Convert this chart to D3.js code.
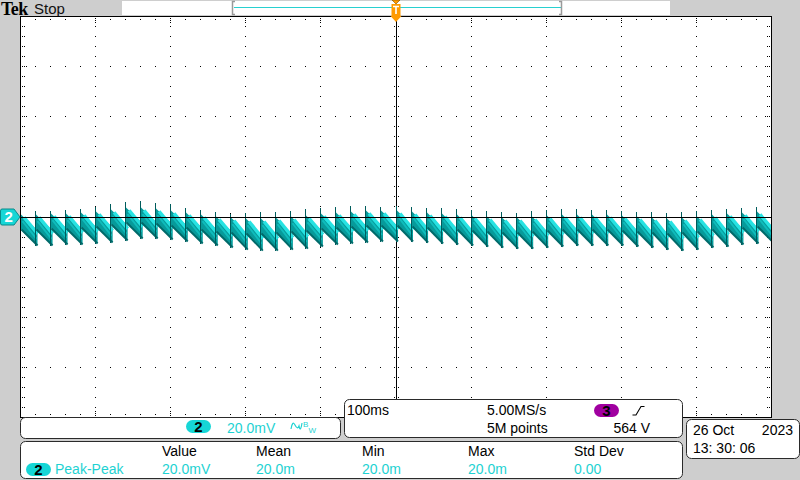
<!DOCTYPE html>
<html><head><meta charset="utf-8">
<script src="https://cdn.jsdelivr.net/npm/d3@7"></script>
<style>
html,body{margin:0;padding:0;background:#cecece;overflow:hidden}
svg{display:block;font-family:"Liberation Sans",Arial,sans-serif}
</style></head><body>
<svg id="c" width="800" height="480"></svg>
<script>
// ---- data (time in ms, voltage in mV) ----
const toothTimes = [-500,-480,-460,-440,-420,-400,-380,-360,-340,-320,-300,-280,-260,-240,-220,-200,-180,-160,-140,-120,-100,-80,-60,-40,-20,0,20,40,60,80,100,120,140,160,180,200,220,240,260,280,300,320,340,360,380,400,420,440,460,480,500];
const spikeTop = [1.8,2.2,2.4,2.6,3.2,3.8,5.0,5.8,6.2,5.6,5.0,3.6,2.6,1.8,1.2,1.4,1.8,2.0,2.2,3.0,3.6,3.8,4.2,4.4,4.0,4.2,3.8,3.6,3.4,3.0,2.6,2.2,1.8,1.6,2.2,2.6,3.2,3.0,2.8,2.6,2.4,1.8,1.8,1.4,1.8,2.2,2.6,3.2,3.4,3.8,3.8];
const bandStart = [1.0,1.0,1.4,1.4,1.8,2.2,3.0,3.8,3.8,3.4,2.6,1.8,1.0,0.2,-0.2,-0.6,-0.6,-0.2,0.2,0.6,1.4,1.8,2.2,2.6,2.6,2.6,2.2,1.8,1.4,1.0,0.6,0.2,-0.2,-0.2,0.2,0.6,1.0,1.0,1.0,1.0,0.6,0.2,-0.2,-0.6,-0.2,0.2,1.0,1.4,1.8,2.2,2.2];
const bandEnd = [-11.4,-11.4,-11.0,-11.0,-10.6,-10.2,-9.4,-8.6,-8.6,-9.0,-9.8,-10.6,-11.4,-12.2,-13.0,-13.4,-13.4,-13.0,-12.6,-11.8,-11.0,-10.6,-10.2,-9.8,-9.8,-9.8,-10.2,-10.6,-11.0,-11.4,-11.8,-12.2,-12.6,-12.6,-12.2,-11.8,-11.4,-11.4,-11.4,-11.4,-11.8,-12.2,-13.0,-13.4,-13.0,-12.2,-11.8,-11.0,-10.6,-10.2,-10.2];
const toothPeriod = 20;
const timeDivs = [-500,-400,-300,-200,-100,0,100,200,300,400,500];
const voltDivs = [-80,-60,-40,-20,0,20,40,60,80];
const measHeaders = ["Value","Mean","Min","Max","Std Dev"];
const measValues = ["20.0mV","20.0m","20.0m","20.0m","0.00"];
const measName = "Peak-Peak";
const channelLabel = "2";
const channelScale = "20.0mV";
const timeScale = "100ms";
const sampleRate = "5.00MS/s";
const recordLength = "5M points";
const trigSource = "3";
const trigLevel = "564 V";
const dateText = "26 Oct";
const yearText = "2023";
const timeText = "13: 30: 06";

// ---- layout ----
const svg = d3.select("#c");
const x = d3.scaleLinear().domain([-500,500]).range([20.5,771.5]);
const y = d3.scaleLinear().domain([-80,80]).range([417.5,16.5]);
const px = v => Math.floor(x(v)) + 0.5;
const CYAN = "#16d6d6", CYANTXT = "#1ed2d2", DARKTEAL = "#005c5c";

// top status bar
svg.append("text").attr("x",1).attr("y",15).attr("font-family","Liberation Serif")
  .attr("font-weight","bold").attr("font-size",18).attr("letter-spacing",-0.6).text("Tek");
svg.append("text").attr("x",34).attr("y",14).attr("font-size",15).attr("fill","#111").text("Stop");
svg.append("rect").attr("x",122).attr("y",1).attr("width",548).attr("height",14).attr("fill","#fff");
svg.append("line").attr("x1",234).attr("x2",561).attr("y1",7.5).attr("y2",7.5)
  .attr("stroke","#28d0d0").attr("stroke-width",1.2);
svg.append("path").attr("d","M235,1.5 H232.5 V14.5 H235 M559,1.5 H561.5 V14.5 H559")
  .attr("fill","none").attr("stroke","#9a9a9a").attr("stroke-width",1.5);

// plot area
svg.append("rect").attr("x",20).attr("y",16).attr("width",752).attr("height",402).attr("fill","#fff");
const grat = svg.append("g").attr("shape-rendering","crispEdges");
const dot = (g,cx,cy)=>g.append("rect").attr("x",Math.round(cx)).attr("y",Math.round(cy)).attr("width",1).attr("height",1).attr("fill","#000");
const xMinor = d3.range(-500,500.01,20);
const yMinor = d3.range(-80,80.01,4);
const xL = Math.floor(x(-500)), xR = Math.floor(x(500)), yT = Math.floor(y(80)), yB = Math.floor(y(-80));
const xC = Math.floor(x(0)), yC = Math.floor(y(0));
timeDivs.slice(1,-1).forEach(t=>{ if(t===0) return;
  yMinor.forEach(v=>dot(grat,Math.floor(x(t)),Math.floor(y(v)))); });
voltDivs.slice(1,-1).forEach(v=>{ if(v===0) return;
  xMinor.forEach(t=>dot(grat,Math.floor(x(t)),Math.floor(y(v)))); });
yMinor.forEach(v=>{ const yy=Math.floor(y(v)); const major = voltDivs.includes(+v.toFixed(3));
  [2,4].concat(major?[6]:[]).forEach(d=>{dot(grat,xL+d,yy); dot(grat,xR-d,yy);}); });
xMinor.forEach(t=>{ const xx=Math.floor(x(t)); const major = timeDivs.includes(+t.toFixed(3));
  (major?[2,4,6]:[3]).forEach(d=>{dot(grat,xx,yT+d); dot(grat,xx,yB-d);}); });
xMinor.forEach(t=>{ const xx=Math.floor(x(t)); [-4,-2,2,4].forEach(d=>dot(grat,xx,yC+d)); });
yMinor.forEach(v=>{ const yy=Math.floor(y(v)); [-2,2].forEach(d=>dot(grat,xC+d,yy)); });
grat.append("line").attr("x1",xC+0.5).attr("x2",xC+0.5).attr("y1",yT).attr("y2",yB).attr("stroke","#000");

// waveform
const defs = svg.append("defs");
defs.append("clipPath").attr("id","plotclip").append("rect")
  .attr("x",21).attr("y",17).attr("width",750).attr("height",400);
const wave = svg.append("g").attr("clip-path","url(#plotclip)");
const th = 15, ext = 2;
toothTimes.forEach((t,i)=>{
  const xs = px(t), xe = x(t+toothPeriod) + ext;
  const ys = y(bandStart[i]), ye = y(bandEnd[i]);
  const g = wave.append("g");
  g.append("path").attr("d",`M${xs+0.5},${ys} L${xe},${ye-th} L${xe},${ye} L${xs+0.5},${ys+th} Z`)
    .attr("fill","#079a9a");
  g.append("line").attr("x1",xs+3.5).attr("y1",ys+th*0.2).attr("x2",xe).attr("y2",ye-th*0.8)
    .attr("stroke","#27e2e2").attr("stroke-width",3.5);
  g.append("line").attr("x1",xs+2).attr("y1",ys+th*0.45).attr("x2",xe-1).attr("y2",ye-th*0.45)
    .attr("stroke","#0fbcbc").attr("stroke-width",2);
  g.append("line").attr("x1",xs+1).attr("y1",ys+th).attr("x2",xe).attr("y2",ye)
    .attr("stroke","#006a6a").attr("stroke-width",2);
  const prevEnd = i>0 ? bandEnd[i-1] : bandEnd[i];
  g.append("line").attr("x1",xs).attr("x2",xs).attr("y1",y(spikeTop[i])).attr("y2",y(prevEnd))
    .attr("stroke",DARKTEAL).attr("stroke-width",1).attr("shape-rendering","crispEdges");
});
svg.append("line").attr("x1",xL).attr("x2",xR).attr("y1",yC+0.5).attr("y2",yC+0.5)
  .attr("stroke","#000").attr("shape-rendering","crispEdges");
svg.append("rect").attr("x",xL+0.5).attr("y",yT+0.5).attr("width",xR-xL).attr("height",yB-yT)
  .attr("fill","none").attr("stroke","#000").attr("shape-rendering","crispEdges");

// trigger position marker
const tx = x(0);
svg.append("path").attr("d",`M${tx-4},0 H${tx+4} L${tx},4 Z`).attr("fill","#ff9a00").attr("stroke","#7a4a00").attr("stroke-width",0.6);
svg.append("rect").attr("x",tx-4.5).attr("y",4).attr("width",9).attr("height",12).attr("fill","#ff9a00");
svg.append("path").attr("d",`M${tx-5.5},16 H${tx+5.5} L${tx},22 Z`).attr("fill","#ff9a00");
svg.append("path").attr("d",`M${tx-3},6.5 H${tx+3} M${tx},6.5 V14`).attr("stroke","#fff").attr("stroke-width",1.6);

// channel 2 ground marker
const gy = y(0);
svg.append("path").attr("d",`M2,${gy-8} H14 L20,${gy} L14,${gy+8} H2 Q0.5,${gy+8} 0.5,${gy+6} V${gy-6} Q0.5,${gy-8} 2,${gy-8} Z`)
  .attr("fill",CYAN).attr("stroke","#0a8a8a").attr("stroke-width",1);
svg.append("text").attr("x",4.5).attr("y",gy+5).attr("font-size",15).attr("font-weight","bold").attr("fill","#fff").text(channelLabel);

// bottom panels
const panel = (x0,y0,w,h)=>svg.append("rect").attr("x",x0+0.5).attr("y",y0+0.5).attr("width",w).attr("height",h)
  .attr("rx",5).attr("fill","#fff").attr("stroke","#2a2a2a").attr("stroke-width",1);
panel(20,417,320,21);
panel(344,399,338,38);
panel(20,441,662,37);
panel(686,419,113,39);

const pill = (x0,y0,w,h,fill,label)=>{
  svg.append("rect").attr("x",x0).attr("y",y0).attr("width",w).attr("height",h).attr("rx",h/2).attr("fill",fill);
  svg.append("text").attr("x",x0+w/2).attr("y",y0+h-1.5).attr("text-anchor","middle").attr("font-size",15)
    .attr("font-weight","bold").attr("fill","#000").text(label);
};
pill(186,420,25,13,CYAN,channelLabel);
svg.append("text").attr("x",227).attr("y",433).attr("font-size",14).attr("fill",CYANTXT).text(channelScale);
svg.append("path").attr("d","M291,429 Q292.5,420 295,425 T299,426 Q300.5,433 302,423")
  .attr("fill","none").attr("stroke",CYANTXT).attr("stroke-width",1.2);
svg.append("text").attr("x",303).attr("y",427).attr("font-size",8).attr("fill",CYANTXT).text("B");
svg.append("text").attr("x",308.5).attr("y",433).attr("font-size",8).attr("fill",CYANTXT).text("W");

svg.append("text").attr("x",347).attr("y",415).attr("font-size",14).attr("fill","#000").text(timeScale);
svg.append("text").attr("x",487).attr("y",415).attr("font-size",14).attr("fill","#000").text(sampleRate);
svg.append("text").attr("x",487).attr("y",433).attr("font-size",14).attr("fill","#000").text(recordLength);
pill(594,404,25,13,"#a000a0",trigSource);
svg.append("path").attr("d","M632.5,415 H636 L641,406.5 H644.5").attr("fill","none").attr("stroke","#000").attr("stroke-width",1.1);
svg.append("text").attr("x",650).attr("y",433).attr("text-anchor","end").attr("font-size",14).attr("fill","#000").text(trigLevel);

const colX = [162,256,362,468,574];
measHeaders.forEach((h,i)=>svg.append("text").attr("x",colX[i]).attr("y",456).attr("font-size",14).attr("fill","#000").text(h));
measValues.forEach((v,i)=>svg.append("text").attr("x",colX[i]).attr("y",474).attr("font-size",14).attr("fill",CYANTXT).text(v));
pill(26,463,25,13,CYAN,channelLabel);
svg.append("text").attr("x",55).attr("y",474).attr("font-size",14).attr("fill",CYANTXT).text(measName);

svg.append("text").attr("x",693).attr("y",435).attr("font-size",14).attr("fill","#000").text(dateText);
svg.append("text").attr("x",793).attr("y",435).attr("text-anchor","end").attr("font-size",14).attr("fill","#000").text(yearText);
svg.append("text").attr("x",693).attr("y",453).attr("font-size",14).attr("fill","#000").text(timeText);
</script>
</body></html>
